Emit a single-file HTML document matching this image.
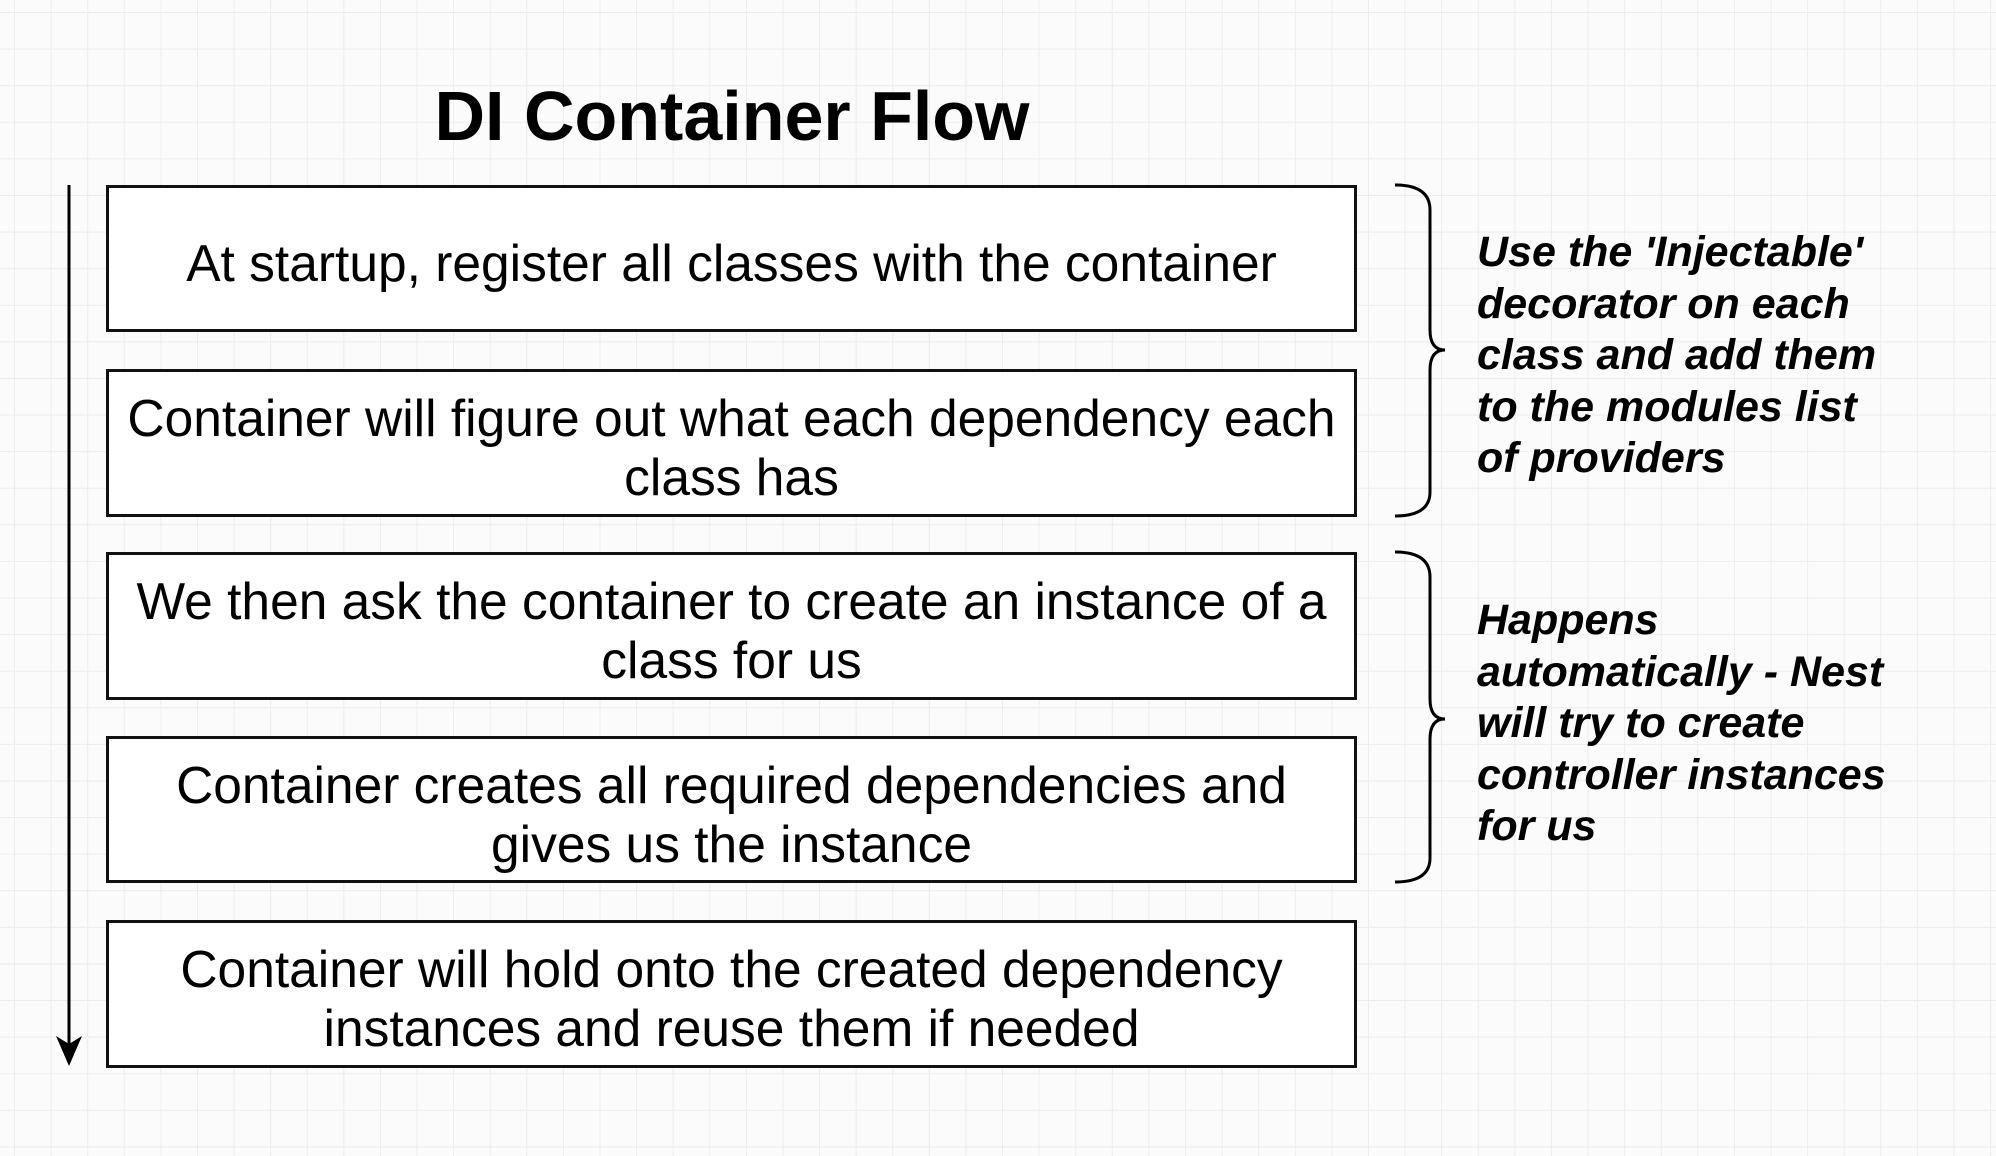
<!DOCTYPE html>
<html><head><meta charset="utf-8"><style>
html,body{margin:0;padding:0}
body{width:1996px;height:1156px;position:relative;overflow:hidden;background-color:#fbfbfb;
background-image:linear-gradient(to right,#ececec 1px,transparent 1px),linear-gradient(to bottom,#ececec 1px,transparent 1px);
background-size:36.6px 36.6px;background-position:14px 12px;font-family:"Liberation Sans",Arial,sans-serif;}
.title{position:absolute;left:0;width:1464px;top:76px;text-align:center;font-weight:bold;font-size:70px;color:#000;}
.box{position:absolute;left:106px;width:1251px;box-sizing:border-box;border:3px solid #111;background:#fff;display:flex;align-items:center;justify-content:center;text-align:center;font-size:51.5px;line-height:59px;color:#000;padding-top:10px;}
.note{position:absolute;left:1477px;font-weight:bold;font-style:italic;font-size:43px;line-height:51.5px;color:#000;}
</style></head><body>
<div class="title">DI Container Flow</div>
<div class="box" style="top:185px;height:147px">At startup, register all classes with the container</div>
<div class="box" style="top:369px;height:148px">Container will figure out what each dependency each<br>class has</div>
<div class="box" style="top:552px;height:148px">We then ask the container to create an instance of a<br>class for us</div>
<div class="box" style="top:736px;height:147px">Container creates all required dependencies and<br>gives us the instance</div>
<div class="box" style="top:920px;height:148px">Container will hold onto the created dependency<br>instances and reuse them if needed</div>
<svg width="1996" height="1156" style="position:absolute;left:0;top:0" fill="none" stroke="#000" stroke-width="3">
<line x1="69" y1="185" x2="69" y2="1050"/>
<path d="M56 1036 L69 1066 L82 1036 L69 1044 Z" fill="#000" stroke="none"/>
<path d="M1395 185 Q1430 185 1430 210 L1430 330 Q1430 350 1445 350 Q1430 350 1430 370 L1430 492 Q1430 516 1395 516"/>
<path d="M1395 552 Q1430 552 1430 577 L1430 699 Q1430 719 1445 719 Q1430 719 1430 739 L1430 858 Q1430 882 1395 882"/>
</svg>
<div class="note" style="top:227px">Use the 'Injectable'<br>decorator on each<br>class and add them<br>to the modules list<br>of providers</div>
<div class="note" style="top:595px">Happens<br>automatically - Nest<br>will try to create<br>controller instances<br>for us</div>
</body></html>
